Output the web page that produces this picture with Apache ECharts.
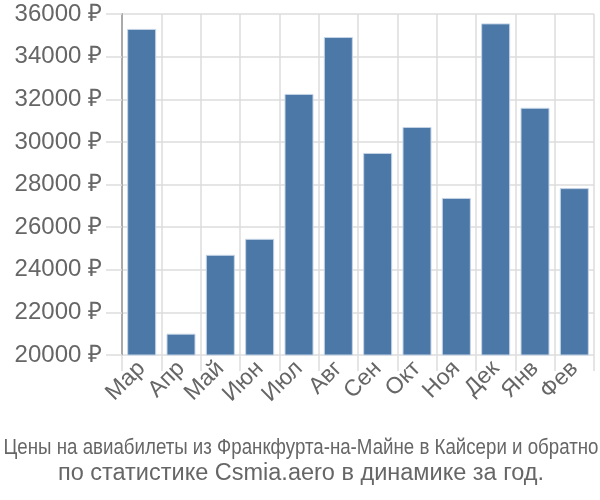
<!DOCTYPE html>
<html><head><meta charset="utf-8">
<script src="https://cdn.jsdelivr.net/npm/echarts@6/dist/echarts.min.js"></script>
<style>html,body{margin:0;padding:0;background:#fff}#c{width:600px;height:500px}</style>
</head><body><div id="c"></div>
<script>
const categories = ['Мар','Апр','Май','Июн','Июл','Авг','Сен','Окт','Ноя','Дек','Янв','Фев'];
const prices = [35300, 21000, 24700, 25450, 32250, 34920, 29480, 30700, 27370, 35560, 31600, 27830];
const titleLine1 = 'Цены на авиабилеты из Франкфурта-на-Майне в Кайсери и обратно';
const titleLine2 = 'по статистике Csmia.aero в динамике за год.';

const FONT = 'Liberation Sans';
const chart = echarts.init(document.getElementById('c'));
chart.setOption({
  animation: false,
  grid: {left: 122, right: 6, top: 14, bottom: 145},
  graphic: [
    {type: 'text', x: 301, y: 448, scaleX: 0.85, style: {text: titleLine1, font: '22px "' + FONT + '"', fill: '#666', align: 'center', verticalAlign: 'middle'}},
    {type: 'text', x: 301, y: 474, style: {text: titleLine2, font: '23.5px "' + FONT + '"', fill: '#666', align: 'center', verticalAlign: 'middle'}}
  ],
  xAxis: {
    type: 'category', data: categories,
    axisLine: {show: false},
    axisTick: {show: true, alignWithLabel: false, length: 16, lineStyle: {color: '#ddd', width: 1.5}},
    splitLine: {show: true, lineStyle: {color: '#ddd', width: 1.5}},
    axisLabel: {rotate: 45, fontSize: 23, color: '#666', fontFamily: FONT, margin: 10, interval: 0}
  },
  yAxis: {
    type: 'value', min: 20000, max: 36000, interval: 2000,
    axisLine: {show: true, lineStyle: {color: '#aaa', width: 2}},
    axisTick: {show: true, length: 16, lineStyle: {color: '#ddd', width: 1.5}},
    splitLine: {lineStyle: {color: '#ddd', width: 1.5}},
    axisLabel: {fontSize: 24, color: '#666', fontFamily: FONT, margin: 20, formatter: v => v + ' ₽'}
  },
  series: [{
    type: 'bar', data: prices, barWidth: 29,
    itemStyle: {color: '#4c78a8', borderColor: '#c5d4e6', borderWidth: 1}
  }]
});
</script></body></html>
